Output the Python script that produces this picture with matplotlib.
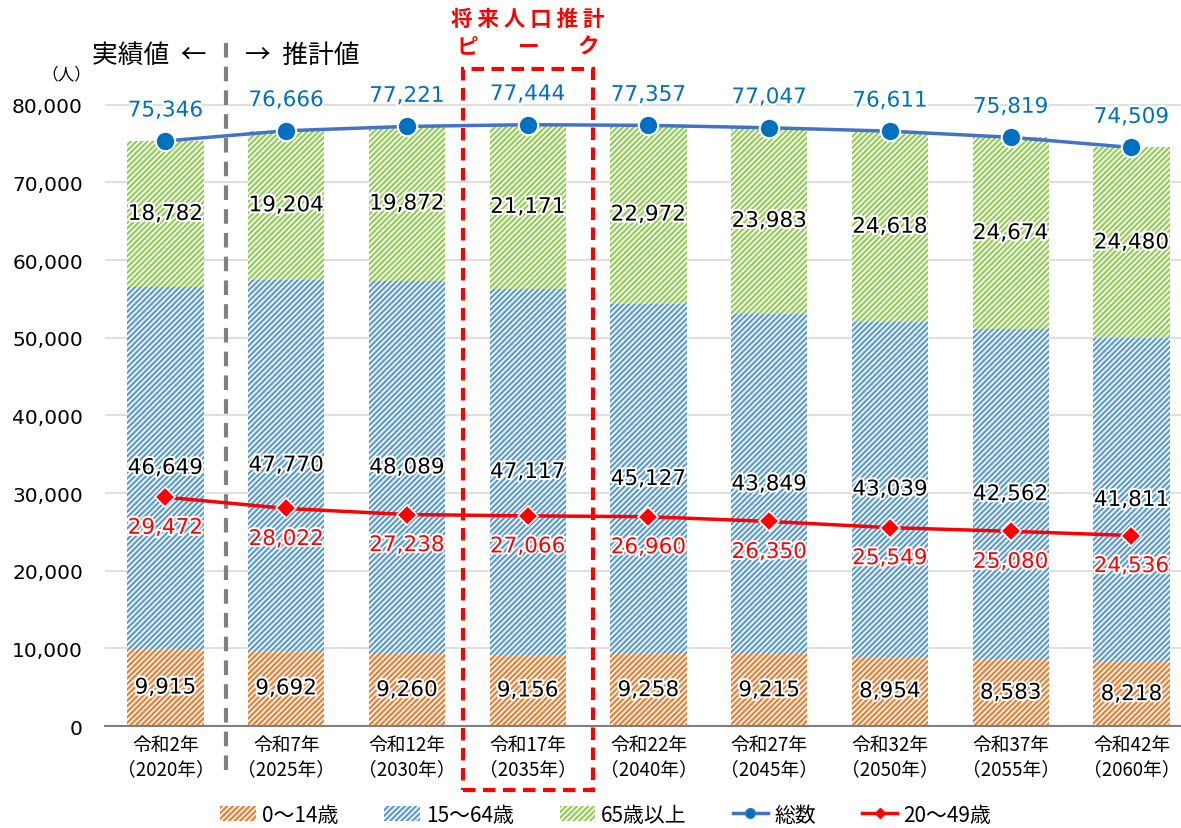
import matplotlib

matplotlib.use("Agg")
import matplotlib.pyplot as plt
import matplotlib.patheffects as pe
from matplotlib.lines import Line2D
from matplotlib.patches import Patch, Rectangle

plt.rcParams["font.family"] = ["Noto Sans CJK JP", "DejaVu Sans"]
plt.rcParams["hatch.linewidth"] = 1.6

years = [
    "令和2年\n（2020年）", "令和7年\n（2025年）", "令和12年\n（2030年）",
    "令和17年\n（2035年）", "令和22年\n（2040年）", "令和27年\n（2045年）",
    "令和32年\n（2050年）", "令和37年\n（2055年）", "令和42年\n（2060年）",
]
age_0_14 = [9915, 9692, 9260, 9156, 9258, 9215, 8954, 8583, 8218]
age_15_64 = [46649, 47770, 48089, 47117, 45127, 43849, 43039, 42562, 41811]
age_65 = [18782, 19204, 19872, 21171, 22972, 23983, 24618, 24674, 24480]
total = [75346, 76666, 77221, 77444, 77357, 77047, 76611, 75819, 74509]
age_20_49 = [29472, 28022, 27238, 27066, 26960, 26350, 25549, 25080, 24536]
peak_idx = 3

C_ORANGE = "#ED7D31"
C_BLUE = "#5B9BD5"
C_GREEN = "#92CD55"
C_LINE = "#4472C4"
C_MARK = "#0070C0"
C_RED = "#FF0000"
NUM_FONT = "DejaVu Sans"

fig = plt.figure(figsize=(11.81, 8.29), dpi=100)
ax = fig.add_axes([0.089, 0.123, 0.911, 0.843])

x = list(range(len(years)))
w = 0.63
outline = [pe.withStroke(linewidth=3, foreground="white")]
lab_kw = dict(fontsize=15.5, family=NUM_FONT, path_effects=outline, zorder=5)

bottoms = [0] * len(x)
for vals, col in ((age_0_14, C_ORANGE), (age_15_64, C_BLUE), (age_65, C_GREEN)):
    ax.bar(x, vals, w, bottom=bottoms, facecolor="white", edgecolor=col,
           hatch="//////", linewidth=0, zorder=2)
    for xi, b, v in zip(x, bottoms, vals):
        ax.text(xi, b + v / 2, f"{v:,}", ha="center", va="center",
                color="black", **lab_kw)
    bottoms = [b + v for b, v in zip(bottoms, vals)]

ax.plot(x, total, color=C_LINE, lw=2.5, marker="o", ms=14, mfc=C_MARK,
        mec="white", mew=1.5, zorder=4)
for xi, v in zip(x, total):
    ax.annotate(f"{v:,}", (xi, v), xytext=(0, 22), textcoords="offset points",
                ha="center", va="center", color=C_MARK, **lab_kw)

ax.plot(x, age_20_49, color=C_RED, lw=2.5, marker="D", ms=10, mfc=C_RED,
        mec="white", mew=1.2, zorder=4)
for xi, v in zip(x, age_20_49):
    ax.annotate(f"{v:,}", (xi, v), xytext=(0, -22), textcoords="offset points",
                ha="center", va="center", color=C_RED, **lab_kw)

ax.set_xlim(-0.5, 8.41)
ax.set_ylim(0, 90000)
ax.set_yticks(range(0, 80001, 10000))
ax.set_yticklabels([f"{v:,}" for v in range(0, 80001, 10000)], fontsize=14.5,
                   family=NUM_FONT)
ax.set_xticks(x)
ax.set_xticklabels(years, fontsize=13.5, linespacing=1.15)
ax.tick_params(axis="both", length=0)
ax.tick_params(axis="x", pad=6)
ax.tick_params(axis="y", pad=16)
ax.grid(axis="y", color="#D9D9D9", lw=1.2, zorder=0)
for s in ("top", "right", "left"):
    ax.spines[s].set_visible(False)
ax.spines["bottom"].set_color("#7F7F7F")
ax.spines["bottom"].set_linewidth(1.5)
ax.spines["bottom"].set_zorder(3)

# actual / projected divider
ax.plot([0.5, 0.5], [-5700, 88600], color="#808080", lw=3, ls=(0, (3.5, 2.2)),
        clip_on=False, zorder=3)
ax.text(0.34, 86400, "実績値  ←", ha="right", va="center", fontsize=18.5)
ax.text(0.66, 86400, "→  推計値", ha="left", va="center", fontsize=18.5)
ax.text(-0.82, 84000, "（人）", ha="center", va="center", fontsize=12)

# peak box
ax.add_patch(Rectangle((peak_idx - 0.54, -8250), 1.08, 92900, fill=False,
                       edgecolor=C_RED, lw=3, ls=(0, (3, 1.8)), clip_on=False,
                       zorder=6))
ax.text(peak_idx, 91100, "将 来 人 口 推 計", ha="center", va="center",
        fontsize=15.5, color=C_RED, fontweight="bold")
for dx, ch in ((-0.5, "ピ"), (0.0, "ー"), (0.5, "ク")):
    ax.text(peak_idx + dx, 87600, ch, ha="center", va="center", fontsize=15.5,
            color=C_RED, fontweight="bold")

handles = [
    Patch(facecolor="white", edgecolor=C_ORANGE, hatch="//////", lw=0, label="0～14歳"),
    Patch(facecolor="white", edgecolor=C_BLUE, hatch="//////", lw=0, label="15～64歳"),
    Patch(facecolor="white", edgecolor=C_GREEN, hatch="//////", lw=0, label="65歳以上"),
    Line2D([], [], color=C_LINE, lw=2.5, marker="o", ms=7, mfc=C_MARK, label="総数"),
    Line2D([], [], color=C_RED, lw=2.5, marker="D", ms=5, mfc=C_RED, label="20～49歳"),
]
fig.legend(handles=handles, loc="center", bbox_to_anchor=(0.513, 0.016), ncol=5,
           frameon=False, fontsize=15, handlelength=1.7, handletextpad=0.3,
           columnspacing=2.2)

fig.savefig("out.png", dpi=100)
